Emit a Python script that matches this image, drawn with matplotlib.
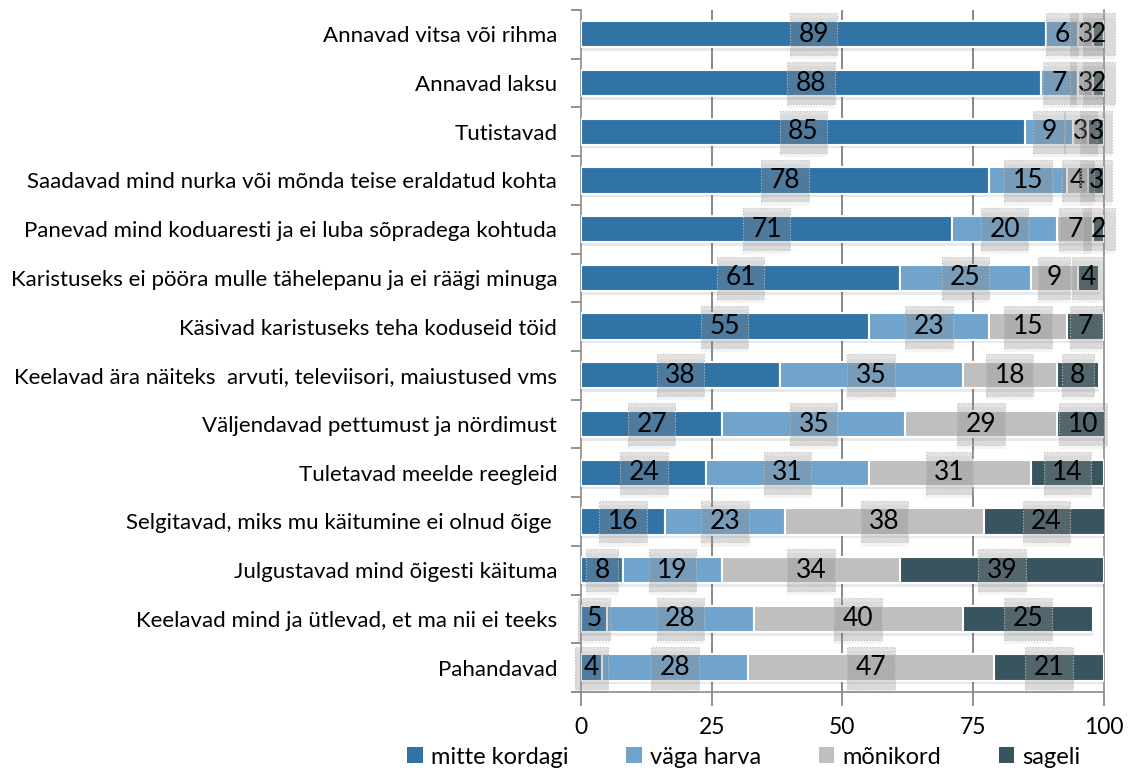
import numpy as np
import matplotlib
matplotlib.use("Agg")
import matplotlib.pyplot as plt
import matplotlib.patheffects as pe
from matplotlib.patches import Patch
from matplotlib.ticker import FixedLocator

# categories top to bottom
categories = [
    "Annavad vitsa või rihma",
    "Annavad laksu",
    "Tutistavad",
    "Saadavad mind nurka või mõnda teise eraldatud kohta",
    "Panevad mind koduaresti ja ei luba sõpradega kohtuda",
    "Karistuseks ei pööra mulle tähelepanu ja ei räägi minuga",
    "Käsivad karistuseks teha koduseid töid",
    "Keelavad ära näiteks  arvuti, televiisori, maiustused vms",
    "Väljendavad pettumust ja nördimust",
    "Tuletavad meelde reegleid",
    "Selgitavad, miks mu käitumine ei olnud õige ",
    "Julgustavad mind õigesti käituma",
    "Keelavad mind ja ütlevad, et ma nii ei teeks",
    "Pahandavad",
]

mitte_kordagi = [89, 88, 85, 78, 71, 61, 55, 38, 27, 24, 16, 8, 5, 4]
vaga_harva = [6, 7, 9, 15, 20, 25, 23, 35, 35, 31, 23, 19, 28, 28]
monikord = [3, 3, 3, 4, 7, 9, 15, 18, 29, 31, 38, 34, 40, 47]
sageli = [2, 2, 3, 3, 2, 4, 7, 8, 10, 14, 24, 39, 25, 21]

series_names = ["mitte kordagi", "väga harva", "mõnikord", "sageli"]
colors = ["#3273a6", "#70a4cc", "#bfbfbf", "#38555f"]

plt.rcParams['font.family'] = ['Lato', 'DejaVu Sans']

fig = plt.figure(figsize=(11.29, 7.71), dpi=100)
ax = fig.add_axes((0.5146, 0.1025, 0.4632, 0.8846))

y = np.arange(len(categories))
left = np.zeros(len(categories))
for name, vals, col in zip(series_names, [mitte_kordagi, vaga_harva, monikord, sageli], colors):
    vals = np.array(vals, dtype=float)
    bars = ax.barh(y, vals, left=left, height=0.54, color=col,
                   edgecolor="white", linewidth=1.5, zorder=3)
    for b in bars:
        b.set_path_effects([pe.SimplePatchShadow(offset=(0, -2.5), alpha=0.1), pe.Normal()])
    for yi, v, l in zip(y, vals, left):
        t = ax.text(l + v / 2, yi, "%d" % v, ha="center", va="center",
                    fontsize=19, color="black", zorder=5,
                    bbox=dict(boxstyle="square,pad=0.32", fc=(0.6, 0.6, 0.6, 0.28),
                              ec=(0.75, 0.75, 0.75), ls=":", lw=0.8))
        t.get_bbox_patch().set_path_effects(
            [pe.SimplePatchShadow(offset=(0, -3), alpha=0.05), pe.Normal()])
    left += vals

ax.set_xlim(0, 100)
ax.set_ylim(len(categories) - 0.5, -0.5)

# gridlines behind bars
for gx in [25, 50, 75]:
    ax.axvline(gx, color="#7f7f7f", lw=1.3, zorder=1)

ax.set_xticks([0, 25, 50, 75, 100])
ax.tick_params(axis="x", length=10, width=1.2, color="#7f7f7f", labelsize=16.5, pad=8)
ax.set_yticks(y)
ax.set_yticklabels(categories)
ax.tick_params(axis="y", length=0, labelsize=16, pad=17)
ax.yaxis.set_minor_locator(FixedLocator(np.arange(-0.5, len(categories), 1)))
ax.tick_params(axis="y", which="minor", length=7, width=1.2, color="#7f7f7f")

for s in ["left", "bottom", "right"]:
    ax.spines[s].set_color("#8c8c8c")
    ax.spines[s].set_linewidth(1.2)
ax.spines["top"].set_visible(False)

handles = [Patch(facecolor=c, edgecolor="none") for c in colors]
fig.legend(handles, series_names, loc="center", bbox_to_anchor=(0.659, 0.018),
           ncol=4, frameon=False, fontsize=17, handlelength=0.65, handleheight=0.65,
           handletextpad=0.35, columnspacing=2.45)

fig.savefig("out.png", dpi=100)
